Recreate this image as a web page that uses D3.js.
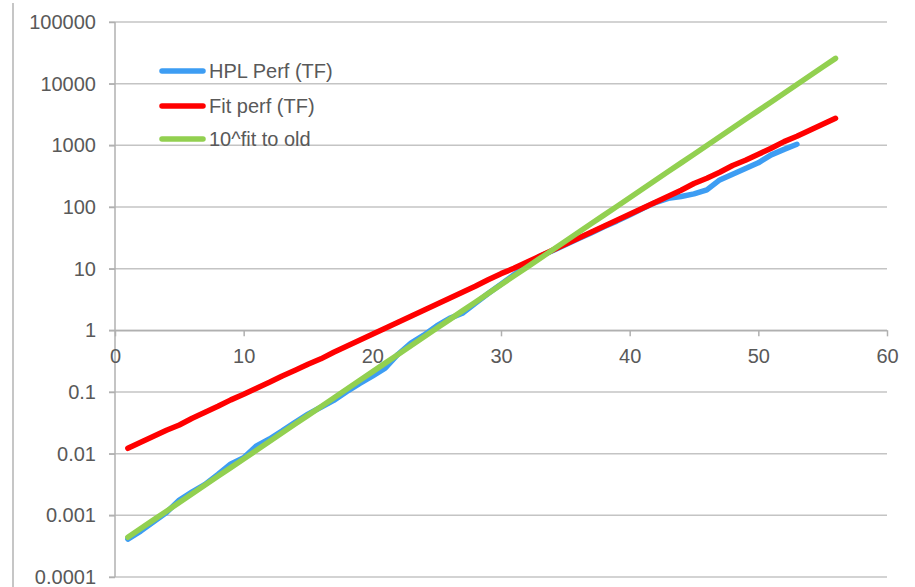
<!DOCTYPE html>
<html>
<head>
<meta charset="utf-8">
<script src="https://cdn.jsdelivr.net/npm/d3@7"></script>
<style>
  body { margin: 0; background: #fff; }
  text { font-family: "Liberation Sans", Arial, sans-serif; fill: #595959; }
</style>
</head>
<body>
<div id="chart"></div>
<script>
// x positions (list index)
var xs = d3.range(1, 57);

// HPL Perf (TF), x = 1..53
var hplPerf = [0.000411, 0.000556, 0.000788, 0.001115, 0.00177, 0.0024, 0.00317, 0.0046, 0.00682, 0.0086,
  0.0134, 0.0173, 0.0234, 0.0323, 0.0437, 0.0565, 0.073, 0.101, 0.137, 0.181,
  0.244, 0.41, 0.62, 0.835, 1.18, 1.56, 1.89, 2.73, 3.96, 5.6,
  7.95, 11.2, 15.9, 19.5, 24.5, 30.5, 38, 48, 59, 74,
  94, 118, 138, 148, 163, 190, 275, 340, 420, 520,
  700, 860, 1040];

// Fit perf (TF), x = 1..56
var fitPerf = [0.0122, 0.0153, 0.0191, 0.0239, 0.0292, 0.0375, 0.0469, 0.0586, 0.0745, 0.0918,
  0.115, 0.1437, 0.182, 0.2249, 0.2813, 0.345, 0.4404, 0.551, 0.6894, 0.8625,
  1.079, 1.35, 1.689, 2.113, 2.644, 3.308, 4.139, 5.178, 6.6, 8.3,
  10.14, 12.69, 15.87, 19.86, 24.85, 31.09, 38.89, 48.66, 60.88, 76.16,
  95.28, 119.2, 149.1, 186.6, 240, 292.1, 365.4, 470, 571.9, 715.6,
  895.4, 1150, 1401, 1753, 2194, 2745];

// 10^fit to old, x = 1..56
var fitOld = [0.000441, 0.00061, 0.000844, 0.001168, 0.001617, 0.002239, 0.003099, 0.00429, 0.005937, 0.008219,
  0.01138, 0.01575, 0.0218, 0.03017, 0.04176, 0.05781, 0.08002, 0.1108, 0.1533, 0.2122,
  0.2938, 0.4066, 0.5629, 0.7792, 1.079, 1.493, 2.067, 2.861, 3.96, 5.482,
  7.586, 10.5, 14.54, 20.12, 27.85, 38.55, 53.37, 73.87, 102.2, 141.5,
  195.9, 271.2, 375.4, 519.6, 719.3, 995.4, 1378, 1907, 2640, 3655,
  5058, 7002, 9692, 13420, 18570, 25700];

var seriesNames = ["HPL Perf (TF)", "Fit perf (TF)", "10^fit to old"];
var seriesColors = ["#3d9df3", "#ff0000", "#92d050"];
var yTicks = [0.0001, 0.001, 0.01, 0.1, 1, 10, 100, 1000, 10000, 100000];
var yTickLabels = ["0.0001", "0.001", "0.01", "0.1", "1", "10", "100", "1000", "10000", "100000"];
var xTicks = [0, 10, 20, 30, 40, 50, 60];

var svgWidth = 915;
var svgHeight = 587;

var svg = d3.select("#chart")
  .append("svg")
  .attr("width", svgWidth)
  .attr("height", svgHeight);

var xScale = d3.scaleLinear()
  .domain([0, 60])
  .range([115, 887]);

var yScale = d3.scaleLog()
  .domain([0.0001, 100000])
  .range([577, 22]);

// outer frame edge on the left
svg.append("line")
  .attr("x1", 13).attr("x2", 13)
  .attr("y1", 3).attr("y2", svgHeight)
  .attr("stroke", "#b3b3b3")
  .attr("stroke-width", 1.5);

// gridlines
svg.append("g")
  .selectAll("line")
  .data(yTicks)
  .enter()
  .append("line")
  .attr("x1", 109)
  .attr("x2", 887)
  .attr("y1", d => yScale(d))
  .attr("y2", d => yScale(d))
  .attr("stroke", "#c4c4c4")
  .attr("stroke-width", 1.5);

var leftAxis = d3.axisLeft(yScale)
  .tickValues(yTicks)
  .tickFormat((d, i) => yTickLabels[i])
  .tickSize(6)
  .tickPadding(13);

var yAxisG = svg.append("g")
  .attr("transform", "translate(115,0)")
  .call(leftAxis);

var bottomAxis = d3.axisBottom(xScale)
  .tickValues(xTicks)
  .tickFormat(d3.format("d"))
  .tickSize(6)
  .tickSizeOuter(0)
  .tickPadding(12);

var xAxisG = svg.append("g")
  .attr("transform", `translate(0,${yScale(1)})`)
  .call(bottomAxis);

[yAxisG, xAxisG].forEach(function(g) {
  g.select(".domain").attr("stroke", "#b0b0b0").attr("stroke-width", 1.5);
  g.selectAll(".tick line").attr("stroke", "#b0b0b0").attr("stroke-width", 1.5);
  g.selectAll(".tick text")
    .attr("fill", "#595959")
    .style("font-size", "20px")
    .style("font-family", "'Liberation Sans', Arial, sans-serif");
});
yAxisG.select(".domain").attr("d", `M0,${yScale(100000)}V${yScale(0.0001)}`);

var line = d3.line()
  .x(d => xScale(d[0]))
  .y(d => yScale(d[1]));

var allSeries = [hplPerf, fitPerf, fitOld];

allSeries.forEach(function(values, i) {
  var pts = values.map((v, j) => [xs[j], v]);
  svg.append("path")
    .datum(pts)
    .attr("d", line)
    .attr("fill", "none")
    .attr("stroke", seriesColors[i])
    .attr("stroke-width", 5.5)
    .attr("stroke-linecap", "round")
    .attr("stroke-linejoin", "round");
});

// legend
var legendY = [71, 106, 139];
var legend = svg.append("g");
seriesNames.forEach(function(name, i) {
  legend.append("line")
    .attr("x1", 162).attr("x2", 203)
    .attr("y1", legendY[i]).attr("y2", legendY[i])
    .attr("stroke", seriesColors[i])
    .attr("stroke-width", 5.5)
    .attr("stroke-linecap", "round");
  legend.append("text")
    .attr("x", 209)
    .attr("y", legendY[i])
    .attr("dy", "0.36em")
    .style("font-size", "20px")
    .text(name);
});
</script>
</body>
</html>
